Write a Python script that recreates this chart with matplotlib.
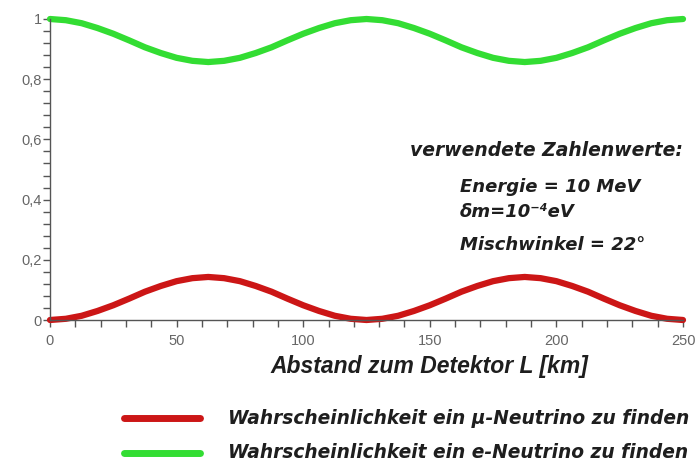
import matplotlib
matplotlib.use("Agg")
import matplotlib.pyplot as plt
from matplotlib.ticker import MultipleLocator, FuncFormatter

L_km = [0, 6.25, 12.5, 18.75, 25, 31.25, 37.5, 43.75, 50, 56.25, 62.5,
        68.75, 75, 81.25, 87.5, 93.75, 100, 106.25, 112.5, 118.75, 125,
        131.25, 137.5, 143.75, 150, 156.25, 162.5, 168.75, 175, 181.25, 187.5,
        193.75, 200, 206.25, 212.5, 218.75, 225, 231.25, 237.5, 243.75, 250]

p_mu = [0.0, 0.004, 0.014, 0.030, 0.049, 0.071, 0.094, 0.113, 0.129, 0.139, 0.143,
        0.139, 0.129, 0.113, 0.094, 0.071, 0.049, 0.030, 0.014, 0.004, 0.0,
        0.004, 0.014, 0.030, 0.049, 0.071, 0.094, 0.113, 0.129, 0.139, 0.143,
        0.139, 0.129, 0.113, 0.094, 0.071, 0.049, 0.030, 0.014, 0.004, 0.0]

p_e = [1.0, 0.996, 0.986, 0.970, 0.951, 0.929, 0.906, 0.887, 0.871, 0.861, 0.857,
       0.861, 0.871, 0.887, 0.906, 0.929, 0.951, 0.970, 0.986, 0.996, 1.0,
       0.996, 0.986, 0.970, 0.951, 0.929, 0.906, 0.887, 0.871, 0.861, 0.857,
       0.861, 0.871, 0.887, 0.906, 0.929, 0.951, 0.970, 0.986, 0.996, 1.0]

x_major = [0, 50, 100, 150, 200, 250]
y_major = [0, 0.2, 0.4, 0.6, 0.8, 1.0]

RED = '#cc1616'
GREEN = '#33dd33'
TXT = '#1e1e1e'
plt.rcParams['font.family'] = ['Liberation Sans', 'DejaVu Sans']
WIDE = ['DejaVu Sans']  # breitere Schrift fuer die Beschriftungen

fig = plt.figure(figsize=(7.0, 4.68), dpi=100)
ax = fig.add_axes([50/700, 148/468, 633/700, 301/468])

ax.plot(L_km, p_mu, color=RED, linewidth=4.5, clip_on=False, solid_capstyle='round')
ax.plot(L_km, p_e, color=GREEN, linewidth=4.5, clip_on=False, solid_capstyle='round')

ax.set_xlim(0, 250)
ax.set_ylim(0, 1)
for s in ['top', 'right']:
    ax.spines[s].set_visible(False)
for s in ['left', 'bottom']:
    ax.spines[s].set_color('#555555')
    ax.spines[s].set_linewidth(1.0)

ax.set_xticks(x_major)
ax.set_yticks(y_major)
ax.xaxis.set_minor_locator(MultipleLocator(10))
ax.yaxis.set_minor_locator(MultipleLocator(0.04))
ax.yaxis.set_major_formatter(FuncFormatter(lambda v, p: ('%g' % round(v, 2)).replace('.', ',')))
ax.tick_params(axis='x', which='both', direction='out', length=5, width=1, color='#555555',
               labelsize=10.5, labelcolor='#666666', pad=5)
ax.tick_params(axis='y', which='both', direction='out', length=5, width=1, color='#555555',
               labelsize=10.5, labelcolor='#666666', pad=1)

fig.text(429/700, 1 - 367/468, 'Abstand zum Detektor L [km]', ha='center', va='center',
         fontsize=16.5, fontweight='bold', fontstyle='italic', color=TXT)

# Zahlenwerte
fig.text(683/700, 1 - 150/468, 'verwendete Zahlenwerte:', ha='right', va='center',
         fontsize=13.5, fontweight='bold', fontstyle='italic', color=TXT, family=WIDE)
for txt, ypix in [('Energie = 10 MeV', 187), ('δm=10⁻⁴eV', 212), ('Mischwinkel = 22°', 245)]:
    fig.text(460/700, 1 - ypix/468, txt, ha='left', va='center',
             fontsize=13, fontweight='bold', fontstyle='italic', color=TXT, family=WIDE)

# Legende
leg_items = [(RED, 'Wahrscheinlichkeit ein μ-Neutrino zu finden', 418),
             (GREEN, 'Wahrscheinlichkeit ein e-Neutrino zu finden', 453)]
for col, txt, ypix in leg_items:
    yf = 1 - ypix/468
    fig.add_artist(plt.Line2D([124/700, 200/700], [yf, yf], color=col, linewidth=5,
                              solid_capstyle='round'))
    fig.text(228/700, yf, txt, ha='left', va='center', fontsize=13.4,
             fontstyle='italic', fontweight='bold', color=TXT, family=WIDE)

fig.savefig('out.png', dpi=100)
